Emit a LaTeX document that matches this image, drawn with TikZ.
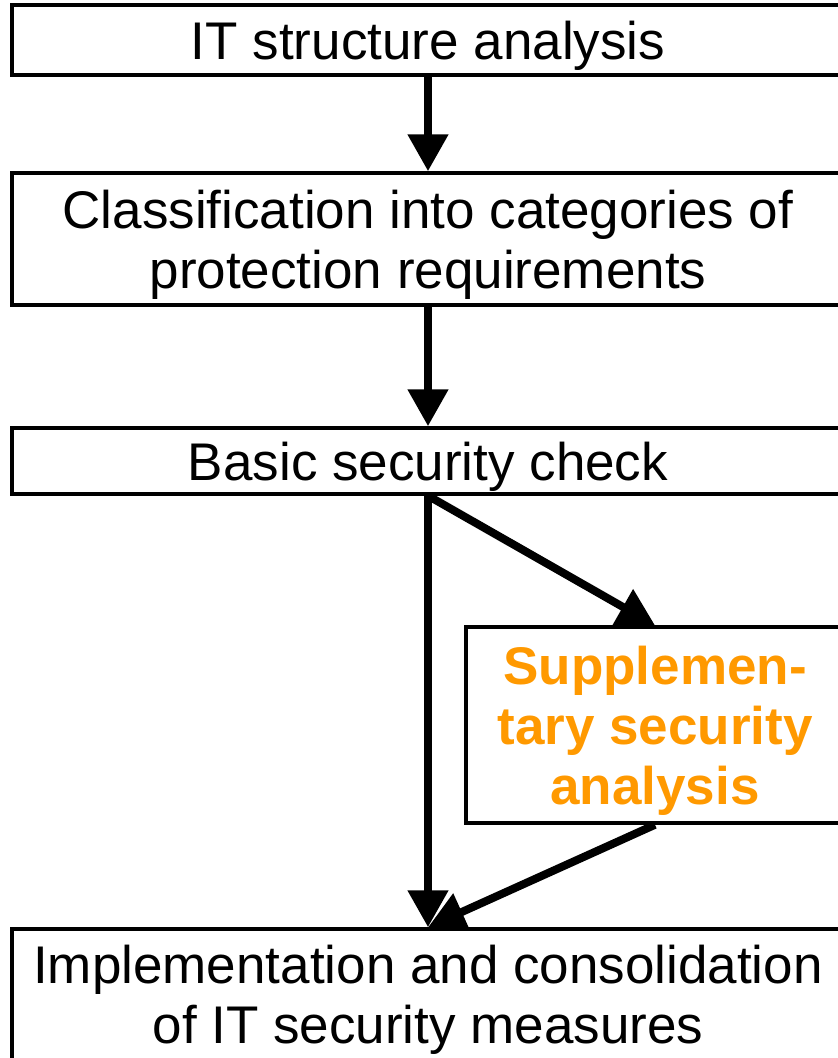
\documentclass[tikz,border=0pt]{standalone}
\usepackage{fontspec}
\setmainfont{Liberation Sans}
\usetikzlibrary{arrows.meta}
\definecolor{suporange}{RGB}{255,153,0}
\newcommand{\boxfont}{\fontsize{53pt}{60pt}\selectfont}
\begin{document}
\begin{tikzpicture}[x=1pt,y=-1pt]
\tikzset{
  box/.style={draw, line width=3.5pt, rectangle, minimum width=832pt,
    inner xsep=0pt, inner ysep=0pt, align=center, font=\boxfont,
    text height=38pt, text depth=0pt},
  flow/.style={line width=8pt, -{Triangle[width=39pt,length=37pt]}}
}
\useasboundingbox (0,0) rectangle (838,1058);
\node[box, minimum height=70pt] (b1) at (428,40) {IT structure analysis};
\node[box, minimum height=132pt, text height=98pt] (b2) at (428,239)
  {Classification into categories of\\protection requirements};
\node[box, minimum height=66pt] (b3) at (428,461) {Basic security check};
\node[box, minimum width=378pt, minimum height=196pt, text height=158pt,
  font=\boxfont\bfseries, text=suporange] (b4) at (655,725)
  {Supplemen-\\tary security\\analysis};
\node[box, anchor=north, inner ysep=16pt, text height=98pt, text depth=20pt] (b5) at (428,927.25)
  {Implementation and consolidation\\of IT security measures};
\draw[flow] (b1.south) -- (b2.north);
\draw[flow] (b2.south) -- (b3.north);
\draw[flow] (b3.south) -- (b5.north);
\draw[flow] (b3.south) -- (b4.north);
\draw[flow] (b4.south) -- (b5.north);
\end{tikzpicture}
\end{document}
